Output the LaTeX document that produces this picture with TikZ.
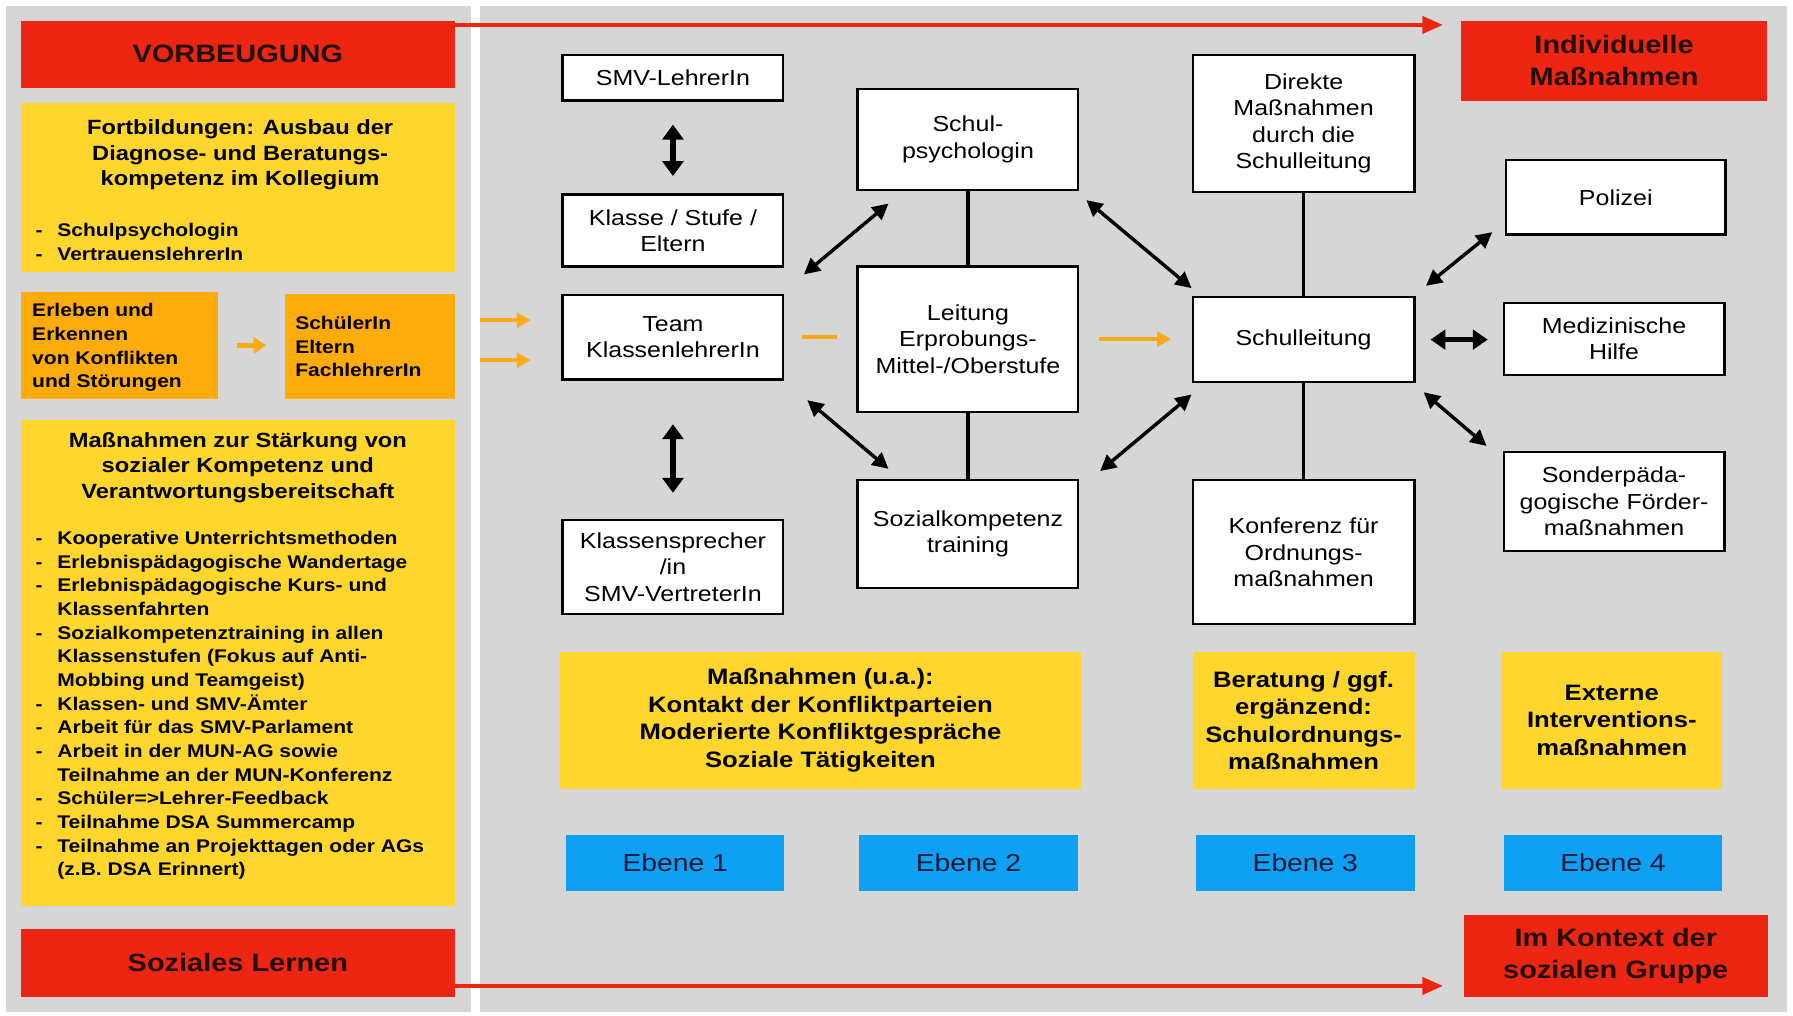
\documentclass[tikz,border=0pt]{standalone}
\usepackage{fontspec}
\setmainfont[FakeStretch=1.15]{Liberation Sans}
\usetikzlibrary{arrows.meta,calc}
\definecolor{redc}{RGB}{236,38,18}
\definecolor{yelc}{RGB}{254,214,46}
\definecolor{orac}{RGB}{253,172,12}
\definecolor{bluc}{RGB}{14,160,242}
\definecolor{grayc}{RGB}{214,214,214}
\definecolor{arrowor}{RGB}{250,170,20}
\definecolor{navyc}{RGB}{15,25,60}
\definecolor{darkc}{RGB}{35,15,10}
\newcommand\lbul{\makebox[19pt][l]{-}}
\newcommand\lind{\hspace*{19pt}}
\begin{document}
\begin{tikzpicture}[x=1pt,y=-1pt,
  wbox/.style={draw=black,line width=2pt,fill=white,align=center,inner sep=0pt,font=\fontsize{19}{23}\selectfont},
  ybox/.style={fill=yelc,inner sep=0pt,align=center,font=\bfseries\fontsize{19.5}{24}\selectfont},
  rbox/.style={fill=redc,inner sep=0pt,align=center,text=darkc,font=\bfseries\fontsize{22}{27.5}\selectfont},
  bbox/.style={fill=bluc,inner sep=0pt,align=center,text=navyc,font=\fontsize{21.5}{26}\selectfont},
  obox/.style={fill=orac,inner sep=0pt},
  ltext/.style={inner sep=0pt,align=left,font=\bfseries\fontsize{16}{20.7}\selectfont},
  htext/.style={inner sep=0pt,align=center,font=\bfseries\fontsize{18}{22.2}\selectfont},
  dbl/.style={line width=3pt,{Triangle[length=14pt,width=14pt]}-{Triangle[length=14pt,width=14pt]}},
  vdbl/.style={line width=5.5pt,{Triangle[length=13pt,width=18pt]}-{Triangle[length=13pt,width=18pt]}},
  redarr/.style={draw=redc,line width=3.5pt,-{Triangle[length=18pt,width=15pt]}},
  orarr/.style={draw=arrowor,line width=3.5pt,-{Triangle[length=12pt,width=13pt]}},
  orline/.style={draw=arrowor,line width=3.5pt},
  conn/.style={line width=3.5pt},
]
\useasboundingbox (0,0) rectangle (1568,888);
\fill[white] (0,0) rectangle (1568,888);
\fill[grayc] (5,5) rectangle (412,885);
\fill[grayc] (420,5) rectangle (1563,885);

% left panel
\node[rbox,minimum width=380pt,minimum height=59pt] (vorb) at (208,47.5) {VORBEUGUNG};
\node[ybox,minimum width=380pt,minimum height=148pt] (fort) at (208,164) {};
\node[htext] (forth) at (210,135.5) {Fortbildungen: Ausbau der\\Diagnose- und Beratungs-\\kompetenz im Kollegium};
\node[ltext,anchor=west] (fortl) at (31,211.5) {\lbul Schulpsychologin\\\lbul VertrauenslehrerIn};
\node[obox,minimum width=173pt,minimum height=94pt] (erl) at (104.5,302) {};
\node[ltext,anchor=west] (erlt) at (28,304) {Erleben und\\Erkennen\\von Konflikten\\und Störungen};
\node[obox,minimum width=149pt,minimum height=92pt] (sch) at (323.5,303) {};
\node[ltext,anchor=west] (scht) at (258,303) {SchülerIn\\Eltern\\FachlehrerIn};
\draw[orarr,line width=4pt,shorten <=16pt,shorten >=16pt,-{Triangle[length=11pt,width=14pt]}] (erl.east) -- (sch.west |- erl.east);
\node[ybox,minimum width=380pt,minimum height=425pt] (mass) at (208,579.5) {};
\node[htext] (massh) at (208,409) {Maßnahmen zur Stärkung von\\sozialer Kompetenz und\\Verantwortungsbereitschaft};
\node[ltext,anchor=west] (massl) at (31,617) {\lbul Kooperative Unterrichtsmethoden\\
\lbul Erlebnispädagogische Wandertage\\
\lbul Erlebnispädagogische Kurs- und\\
\lind Klassenfahrten\\
\lbul Sozialkompetenztraining in allen\\
\lind Klassenstufen (Fokus auf Anti-\\
\lind Mobbing und Teamgeist)\\
\lbul Klassen- und SMV-Ämter\\
\lbul Arbeit für das SMV-Parlament\\
\lbul Arbeit in der MUN-AG sowie\\
\lind Teilnahme an der MUN-Konferenz\\
\lbul Schüler=>Lehrer-Feedback\\
\lbul Teilnahme DSA Summercamp\\
\lbul Teilnahme an Projekttagen oder AGs\\
\lind (z.B. DSA Erinnert)};
\node[rbox,minimum width=380pt,minimum height=60pt] (soz) at (208,842) {Soziales Lernen};

% red boxes right
\node[rbox,minimum width=267pt,minimum height=70pt] (ind) at (1411.5,53) {Individuelle\\Maßnahmen};
\node[rbox,minimum width=266pt,minimum height=72pt] (kon) at (1413,836) {Im Kontext der\\sozialen Gruppe};
\draw[redarr] ([yshift=-4pt]vorb.north east) -- ([yshift=-4pt,xshift=-16pt]ind.north west);
\draw[redarr] ([yshift=10pt]soz.south east) -- ([xshift=-18pt,yshift=10pt]kon.south west);

% column 1
\node[wbox,minimum width=193pt,minimum height=40pt] (smv) at (588.5,68) {SMV-LehrerIn};
\node[wbox,minimum width=193pt,minimum height=63pt] (kla) at (588.5,201.5) {Klasse / Stufe /\\Eltern};
\node[wbox,minimum width=193pt,minimum height=74pt] (team) at (588.5,295) {Team\\KlassenlehrerIn};
\node[wbox,minimum width=193pt,minimum height=82pt] (ksp) at (588.5,496) {Klassensprecher\\/in\\SMV-VertreterIn};
\draw[vdbl,shorten <=20pt,shorten >=15pt] (smv) -- (kla);
\draw[vdbl,shorten <=38pt,shorten >=23pt] (team) -- (ksp);

% column 2
\node[wbox,minimum width=193pt,minimum height=88pt] (psy) at (846.5,122) {Schul-\\psychologin};
\node[wbox,minimum width=193pt,minimum height=127pt] (lei) at (846.5,296.5) {Leitung\\Erprobungs-\\Mittel-/Oberstufe};
\node[wbox,minimum width=193pt,minimum height=94pt] (skt) at (846.5,467) {Sozialkompetenz\\training};
\draw[conn] (psy) -- (lei);
\draw[conn] (lei) -- (skt);

% column 3
\node[wbox,minimum width=194pt,minimum height=120pt] (dir) at (1140,108) {Direkte\\Maßnahmen\\durch die\\Schulleitung};
\node[wbox,minimum width=194pt,minimum height=74pt] (sl) at (1140,297) {Schulleitung};
\node[wbox,minimum width=194pt,minimum height=126pt] (kfo) at (1140,483) {Konferenz für\\Ordnungs-\\maßnahmen};
\draw[conn,line width=3pt] (dir) -- (sl);
\draw[conn,line width=3pt] (sl) -- (kfo);

% column 4
\node[wbox,minimum width=192pt,minimum height=65pt] (pol) at (1413,172.5) {Polizei};
\node[wbox,minimum width=193pt,minimum height=63pt] (med) at (1411.5,296.5) {Medizinische\\Hilfe};
\node[wbox,minimum width=193pt,minimum height=87pt] (son) at (1411.5,438.5) {Sonderpäda-\\gogische Förder-\\maßnahmen};

% orange connectors
\coordinate (o1) at (420,280);
\coordinate (o2) at (420,315);
\draw[orarr,shorten >=27pt] (o1) -- (o1 -| team.west);
\draw[orarr,shorten >=27pt] (o2) -- (o2 -| team.west);
\draw[orline,shorten <=15pt,shorten >=17pt] (team.east) -- (team.east -| lei.west);
\draw[orarr,shorten <=17pt,shorten >=18pt] (lei.east) -- (lei.east -| sl.west);

% diagonal double arrows
\coordinate (a1s) at (703,240); \coordinate (a1e) at (777,178);
\coordinate (a2s) at (706,350); \coordinate (a2e) at (777,410);
\coordinate (a3s) at (950,175); \coordinate (a3e) at (1042,252);
\coordinate (a4s) at (962,412); \coordinate (a4e) at (1042,345);
\coordinate (a5s) at (1247,250); \coordinate (a5e) at (1305,203);
\coordinate (a6s) at (1251,297); \coordinate (a6e) at (1301,297);
\coordinate (a7s) at (1245,343); \coordinate (a7e) at (1300,390);
\draw[dbl] (a1s) -- (a1e);
\draw[dbl] (a2s) -- (a2e);
\draw[dbl] (a3s) -- (a3e);
\draw[dbl] (a4s) -- (a4e);
\draw[dbl] (a5s) -- (a5e);
\draw[line width=5pt,{Triangle[length=13pt,width=17pt]}-{Triangle[length=13pt,width=17pt]}] (a6s) -- (a6e);
\draw[dbl] (a7s) -- (a7e);

% yellow boxes
\node[ybox,minimum width=455pt,minimum height=120pt] (y1) at (717.5,630) {Maßnahmen (u.a.):\\Kontakt der Konfliktparteien\\Moderierte Konfliktgespräche\\Soziale Tätigkeiten};
\node[ybox,minimum width=194pt,minimum height=120pt] (y3) at (1140,630) {Beratung / ggf.\\ergänzend:\\Schulordnungs-\\maßnahmen};
\node[ybox,minimum width=193pt,minimum height=120pt] (y4) at (1409.5,630) {Externe\\Interventions-\\maßnahmen};

% blue boxes
\node[bbox,minimum width=191pt,minimum height=49pt] (e1) at (590.5,754.5) {Ebene 1};
\node[bbox,minimum width=192pt,minimum height=49pt] (e2) at (847,754.5) {Ebene 2};
\node[bbox,minimum width=191pt,minimum height=49pt] (e3) at (1141.5,754.5) {Ebene 3};
\node[bbox,minimum width=191pt,minimum height=49pt] (e4) at (1410.5,754.5) {Ebene 4};
\end{tikzpicture}
\end{document}
